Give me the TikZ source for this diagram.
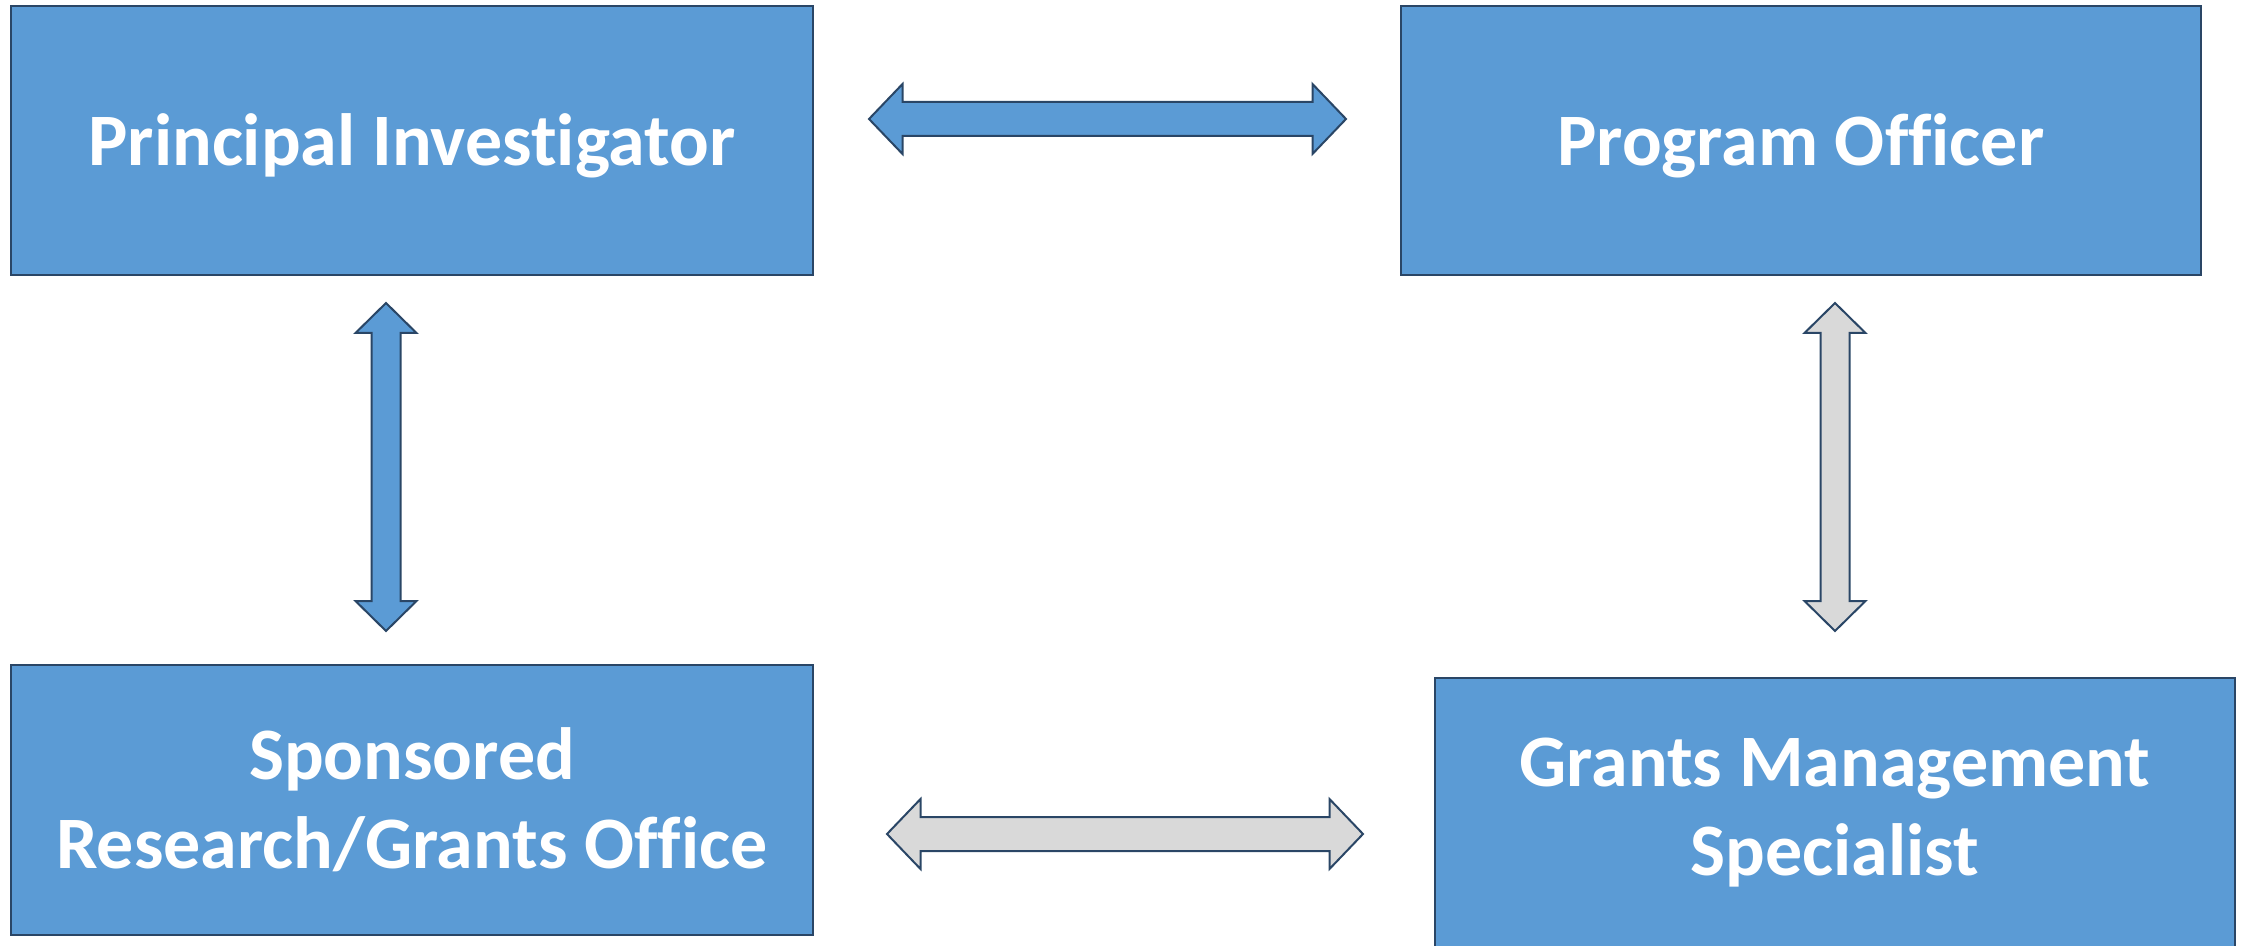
\documentclass[tikz,border=0pt]{standalone}
\usepackage{fontspec}
\setmainfont{Carlito}[Ligatures=NoCommon]
\usetikzlibrary{calc}

\definecolor{boxblue}{HTML}{5B9BD5}
\definecolor{edgenavy}{RGB}{42,70,102}
\definecolor{lightgrey}{HTML}{D9D9D9}

\begin{document}
\begin{tikzpicture}[x=0.5pt,y=-0.5pt,
  role/.style={draw=edgenavy, line width=1.2pt, fill=boxblue,
    text=white, font=\bfseries\fontsize{37}{44.5}\selectfont,
    align=center, inner sep=0pt, outer sep=0pt},
  oneline/.style={text depth=0.1em},
  % horizontal double arrow outline between two tip points
  hdbl/.style={to path={let \p1=(\tikztostart), \p2=(\tikztotarget) in
    (\x1,\y1) -- (\x1+16.75pt,\y1+17.5pt) -- (\x1+16.75pt,\y1+8.5pt)
    -- (\x2-16.75pt,\y1+8.5pt) -- (\x2-16.75pt,\y1+17.5pt) -- (\x2,\y1)
    -- (\x2-16.75pt,\y1-17.5pt) -- (\x2-16.75pt,\y1-8.5pt)
    -- (\x1+16.75pt,\y1-8.5pt) -- (\x1+16.75pt,\y1-17.5pt) -- cycle}},
  % vertical double arrow outline between two tip points (start above)
  vdbl/.style={to path={let \p1=(\tikztostart), \p2=(\tikztotarget) in
    (\x1,\y1) -- (\x1+15.25pt,\y1-15pt) -- (\x1+7.25pt,\y1-15pt)
    -- (\x1+7.25pt,\y2+15pt) -- (\x1+15.25pt,\y2+15pt) -- (\x1,\y2)
    -- (\x1-15.25pt,\y2+15pt) -- (\x1-7.25pt,\y2+15pt)
    -- (\x1-7.25pt,\y1-15pt) -- (\x1-15.25pt,\y1-15pt) -- cycle}},
  link/.style={draw=edgenavy, line width=1pt, line join=miter},
  bluelink/.style={link, fill=boxblue},
  greylink/.style={link, fill=lightgrey}
]
\useasboundingbox (0,0) rectangle (2244,946);

% the four roles
\node[role, oneline, minimum width=401pt, minimum height=134.5pt] (pi) at (412,140.5)
  {Principal Investigator};
\node[role, oneline, minimum width=400pt, minimum height=134.5pt] (po) at (1801,140.5)
  {Program Officer};
\node[role, minimum width=401pt, minimum height=135pt] (sr) at (412,800)
  {Sponsored\\Research/Grants Office};
\node[role, minimum width=400pt, minimum height=135pt] (gms) at (1835,813)
  {Grants Management\\Specialist};

% arrow tips, placed relative to the boxes
\coordinate (piR) at ($(pi.east)+(56,-21.5)$);
\coordinate (poL) at ($(po.west)+(-55,-21.5)$);
\coordinate (piB) at ($(pi.south)+(-26,28)$);
\coordinate (srT) at ($(sr.north)+(-26,-34)$);
\coordinate (poB) at ($(po.south)+(34,28)$);
\coordinate (gmsT) at ($(gms.north)+(0,-47)$);
\coordinate (srR) at ($(sr.east)+(74,34)$);
\coordinate (gmsL) at ($(gms.west)+(-72,21)$);

% connectors
\draw[bluelink] (piR) to[hdbl] (poL);
\draw[bluelink] (piB) to[vdbl] (srT);
\draw[greylink] (poB) to[vdbl] (gmsT);
\draw[greylink] (srR) to[hdbl] (gmsL);
\end{tikzpicture}
\end{document}
